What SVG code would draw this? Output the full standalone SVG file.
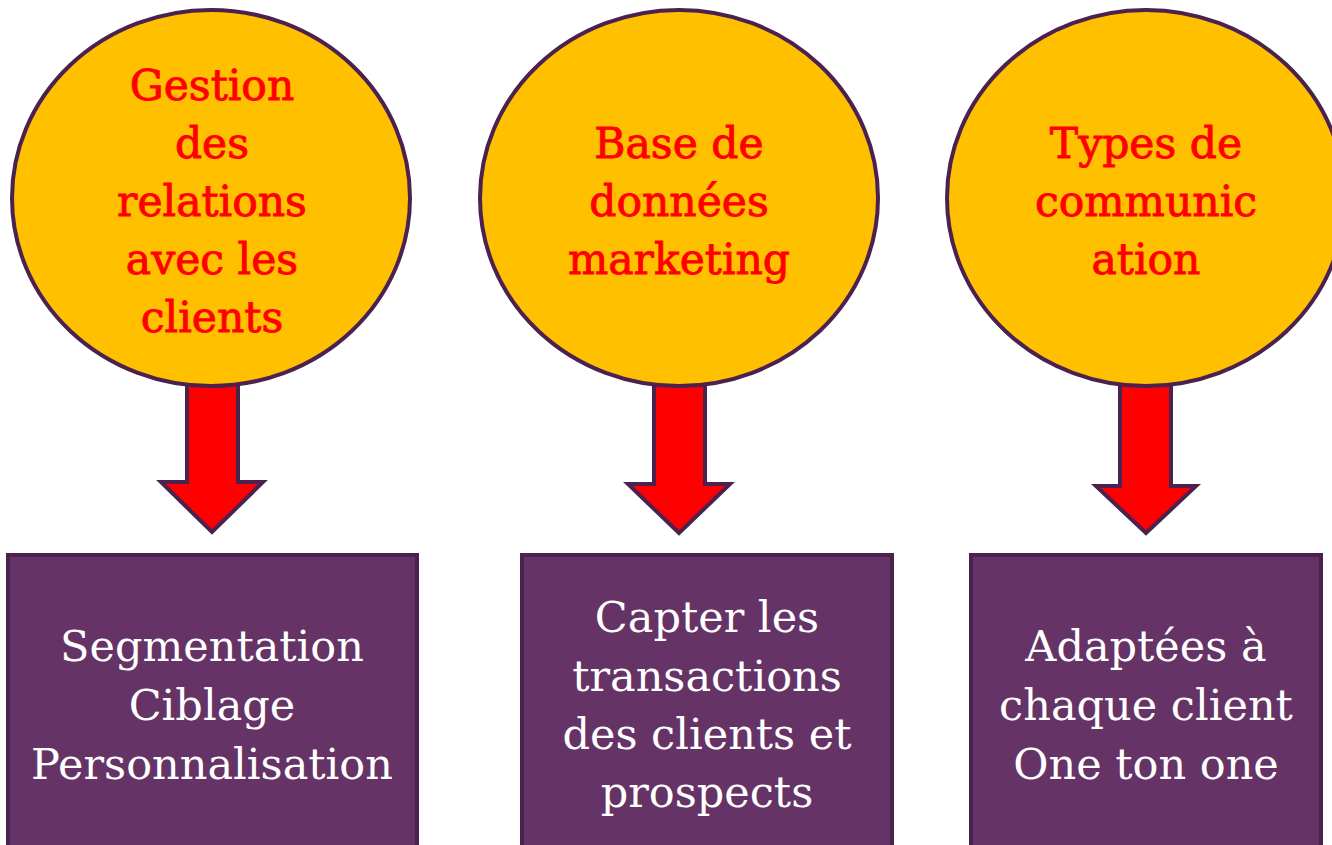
<svg xmlns="http://www.w3.org/2000/svg" width="1332" height="845" viewBox="0 0 1332 845">
<style>
.circ{fill:#ffc000;stroke:#4b2150;stroke-width:4}
.box{fill:#653366;stroke:#4b2150;stroke-width:4}
.arr{fill:#ff0000;stroke:#4b2150;stroke-width:4;stroke-linejoin:miter}
.ct{font-family:"DejaVu Serif","Liberation Serif",serif;font-size:42.5px;fill:#ff0000;stroke:#ff0000;stroke-width:0.9;text-anchor:middle}
.bt{font-family:"DejaVu Serif","Liberation Serif",serif;font-size:43px;fill:#ffffff;text-anchor:middle}
</style>
<rect width="1332" height="845" fill="#ffffff"/>
<g id="connectors">
<path class="arr" d="M187,384 L238,384 L238,482 L263,482 L212,532 L161,482 L187,482 Z"/>
<path class="arr" d="M654,384 L705,384 L705,484 L730,484 L679,533 L628,484 L654,484 Z"/>
<path class="arr" d="M1120,384 L1171,384 L1171,486 L1196,486 L1146,533 L1096,486 L1120,486 Z"/>
</g>
<g id="node-c1">
<ellipse class="circ" cx="211" cy="198" rx="199" ry="188"/>
<text class="ct" x="212" y="100">Gestion</text>
<text class="ct" x="212" y="158">des</text>
<text class="ct" x="212" y="216">relations</text>
<text class="ct" x="212" y="274">avec les</text>
<text class="ct" x="212" y="332">clients</text>
</g>
<g id="node-c2">
<ellipse class="circ" cx="679" cy="198" rx="199" ry="188"/>
<text class="ct" x="679" y="158">Base de</text>
<text class="ct" x="679" y="216">données</text>
<text class="ct" x="679" y="274">marketing</text>
</g>
<g id="node-c3">
<ellipse class="circ" cx="1146" cy="198" rx="199" ry="188"/>
<text class="ct" x="1146" y="158">Types de</text>
<text class="ct" x="1146" y="216">communic</text>
<text class="ct" x="1146" y="274">ation</text>
</g>
<g id="node-b1">
<rect class="box" x="8" y="555" width="409" height="300"/>
<text class="bt" x="212" y="661">Segmentation</text>
<text class="bt" x="212" y="720">Ciblage</text>
<text class="bt" x="212" y="779">Personnalisation</text>
</g>
<g id="node-b2">
<rect class="box" x="522" y="555" width="370" height="300"/>
<text class="bt" x="707" y="632">Capter les</text>
<text class="bt" x="707" y="691">transactions</text>
<text class="bt" x="707" y="749">des clients et</text>
<text class="bt" x="707" y="807">prospects</text>
</g>
<g id="node-b3">
<rect class="box" x="971" y="555" width="350" height="300"/>
<text class="bt" x="1146" y="661">Adaptées à</text>
<text class="bt" x="1146" y="720">chaque client</text>
<text class="bt" x="1146" y="779">One ton one</text>
</g>
</svg>
